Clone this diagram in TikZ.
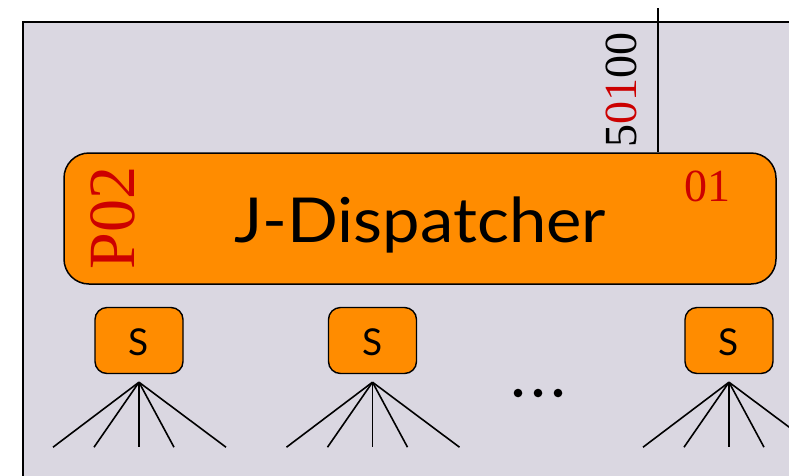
\documentclass[tikz,border=0pt]{standalone}
\usepackage{fontspec}
\setmainfont{Liberation Serif}
\newfontfamily\labelsans{Lato}
\definecolor{bggray}{RGB}{218,215,225}
\definecolor{dorange}{RGB}{255,140,0}
\definecolor{dred}{RGB}{204,0,0}
\begin{document}
\begin{tikzpicture}[x=1pt,y=-1pt,
  dispbox/.style={draw=black,line width=1.5pt,fill=dorange,rounded corners=25pt},
  sbox/.style={draw=black,line width=1.4pt,fill=dorange,rounded corners=12pt,minimum width=88pt,minimum height=66pt,inner sep=0pt},
  fan/.style={line width=1.6pt,draw=black},
  serifnum/.style={inner sep=0pt,font=\fontsize{46}{46}\selectfont},
]
\useasboundingbox (0,0) rectangle (789,475);
\clip (0,0) rectangle (789,475);
% background container
\draw[line width=1.8pt,fill=bggray] (23,22) rectangle (820,500);
% dispatcher
\node[dispbox,minimum width=712pt,minimum height=131pt,inner sep=0pt] (disp) at (420,218.5) {};
\node[anchor=base,inner sep=0pt,font=\labelsans\fontsize{62}{62}\selectfont] (dlabel) at (420,242) {\scalebox{1.08}[1]{J-Dispatcher}};
\node[serifnum,rotate=90,text=dred,font=\fontsize{66}{66}\selectfont] (p02) at (113,218) {P02};
\node[serifnum,text=dred] (n01) at (707,186) {01};
% external line and label
\coordinate (top) at (658,8);
\draw[line width=1.4pt] (top) -- (top |- disp.north);
\node[serifnum,rotate=90] (port) at (621,90) {5\textcolor{dred}{01}00};
% S boxes
\foreach \n/\x in {a/139,b/372.5,c/729}{
  \node[sbox] (s\n) at (\x,340.5) {};
  \node[anchor=base,inner sep=0pt,font=\labelsans\fontsize{37}{37}\selectfont] at (\x,355) {S};
  \coordinate (apex\n) at ([yshift=-8pt]s\n.south);
  \foreach \dx in {-86,-45,0,35,87}{
    \draw[fan] (apex\n) -- ++(\dx,65);
  }
}
% dots
\foreach \x [count=\i] in {518,538,558}{
  \fill (\x,393) circle (4.3pt);
}
\end{tikzpicture}
\end{document}
